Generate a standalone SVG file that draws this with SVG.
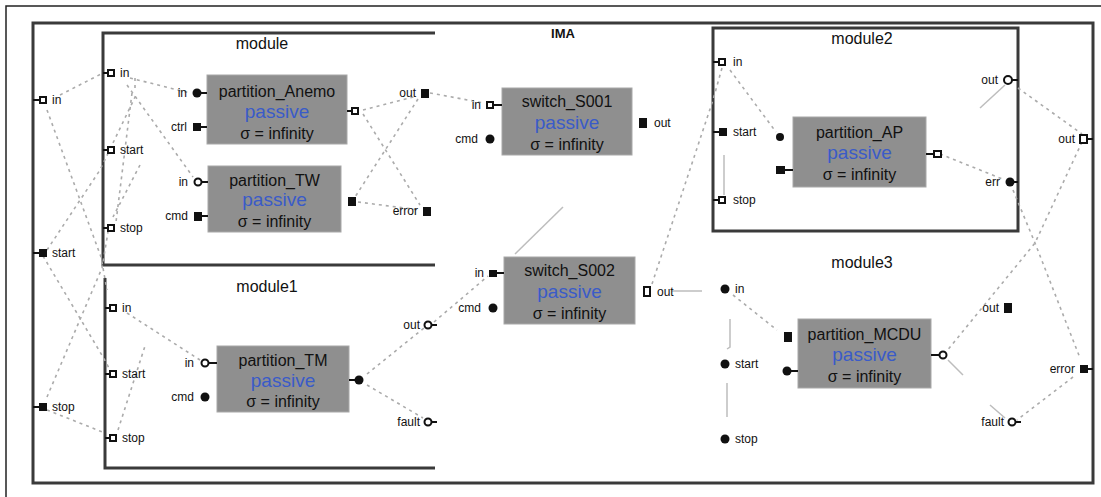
<svg xmlns="http://www.w3.org/2000/svg" width="1101" height="497" viewBox="0 0 1101 497">
<style>
.bg{fill:#fff}
.box{fill:#8f8f8f;stroke:#a8a8a8;stroke-width:1}
.t{font-family:"Liberation Sans",Arial,sans-serif;font-size:16px;fill:#111;text-anchor:middle}
.pa{font-family:"Liberation Sans",Arial,sans-serif;font-size:19px;fill:#3a5bc8;text-anchor:middle}
.l{font-family:"Liberation Sans",Arial,sans-serif;font-size:12px;fill:#111}
.e{text-anchor:end}
.ml{font-family:"Liberation Sans",Arial,sans-serif;font-size:16px;fill:#111;text-anchor:middle}
.fr{fill:none;stroke:#3a3a3a;stroke-width:3}
.conn{fill:none;stroke:#ababab;stroke-width:1.6;stroke-dasharray:3 4}
.sol{fill:none;stroke:#bdbdbd;stroke-width:1.5}
.st{stroke:#111;stroke-width:2}
.f{fill:#111}
.h{fill:#fff;stroke:#111;stroke-width:2}
</style>
<rect class="bg" x="0" y="0" width="1101" height="497"/>
<g id="frames">
<rect x="6" y="6" width="1200" height="600" fill="none" stroke="#222" stroke-width="1.5"/>
<rect x="33" y="23" width="1060" height="460" class="fr"/>
<text x="563" y="38" class="ml" style="font-size:13px;font-weight:bold">IMA</text>
</g>
<g id="module">
<polyline points="435,33 103,33 103,265 435,265" class="fr"/>
<text x="262" y="49" class="ml">module</text>
</g>
<g id="module1">
<polyline points="105,278 105,468 435,468" class="fr"/>
<text x="267" y="292" class="ml">module1</text>
</g>
<g id="module2">
<rect x="713" y="28" width="305" height="203" class="fr"/>
<text x="862" y="44" class="ml">module2</text>
</g>
<g id="module3">
<text x="862" y="268" class="ml">module3</text>
</g>

<g id="connectors">
<polyline class="conn" points="60,95 101,74"/>
<polyline class="conn" points="47,110 101,257 107,290"/>
<polyline class="conn" points="47,250 100,170 137,93"/>
<polyline class="conn" points="43,256 103,357 110,370"/>
<polyline class="conn" points="47,397 102,268 108,232"/>
<polyline class="conn" points="47,410 105,433"/>
<polyline class="conn" points="130,78 190,93"/>
<polyline class="conn" points="127,85 193,177"/>
<polyline class="conn" points="135,78 135,90"/>
<polyline class="conn" points="132,93 116,222"/>
<polyline class="conn" points="140,165 113,217"/>
<polyline class="conn" points="363,110 417,96"/>
<polyline class="conn" points="363,114 420,205"/>
<polyline class="conn" points="418,99 355,197"/>
<polyline class="conn" points="358,202 420,210"/>
<polyline class="conn" points="430,93 484,103"/>
<polyline class="conn" points="127,313 200,360"/>
<polyline class="conn" points="118,430 145,346"/>
<polyline class="conn" points="367,374 424,328"/>
<polyline class="conn" points="367,385 423,418"/>
<polyline class="conn" points="434,322 488,276"/>
<polyline class="sol" points="515,254 563,207"/>
<polyline class="conn" points="652,284 713,100 722,68"/>
<polyline class="sol" points="672,291 702,291"/>
<polyline class="conn" points="730,70 776,132"/>
<polyline class="sol" points="724,155 724,195"/>
<polyline class="conn" points="940,154 1005,180"/>
<polyline class="sol" points="980,108 1005,85"/>
<polyline class="conn" points="1018,88 1082,134"/>
<polyline class="conn" points="1013,190 1035,243 1080,358"/>
<polyline class="conn" points="1082,142 1035,243 946,352"/>
<polyline class="conn" points="1073,377 1017,420"/>
<polyline class="sol" points="948,360 963,375"/>
<polyline class="sol" points="990,405 1005,418"/>
<polyline class="conn" points="733,295 777,330"/>
<polyline class="sol" points="730,319 730,347 727,349"/>
<polyline class="sol" points="727,383 727,417"/>
</g>

<g id="ports-frame">
<line class="st" x1="33" y1="100" x2="40" y2="100"/><rect class="h" x="40" y="97" width="6" height="6"/><text class="l" x="52" y="104">in</text>
<line class="st" x1="33" y1="253" x2="40" y2="253"/><rect class="f" x="39" y="249" width="8" height="8"/><text class="l" x="52" y="257">start</text>
<line class="st" x1="33" y1="407" x2="40" y2="407"/><rect class="f" x="39" y="403" width="8" height="8"/><text class="l" x="52" y="411">stop</text>
<line class="st" x1="1085" y1="139" x2="1093" y2="139"/><rect class="h" x="1080" y="135" width="7" height="8"/><text class="l e" x="1075" y="143">out</text>
<line class="st" x1="1085" y1="369" x2="1093" y2="369"/><rect class="f" x="1080" y="365" width="8" height="8"/><text class="l e" x="1075" y="373">error</text>
</g>
<g id="ports-module">
<line class="st" x1="103" y1="73" x2="108" y2="73"/><rect class="h" x="108" y="70" width="6" height="6"/><text class="l" x="120" y="77">in</text>
<line class="st" x1="103" y1="150" x2="108" y2="150"/><rect class="h" x="108" y="147" width="6" height="6"/><text class="l" x="120" y="154">start</text>
<line class="st" x1="103" y1="228" x2="108" y2="228"/><rect class="h" x="108" y="225" width="6" height="6"/><text class="l" x="120" y="232">stop</text>
<rect class="f" x="421" y="89" width="8" height="9"/><text class="l e" x="416" y="97">out</text>
<rect class="f" x="423" y="207" width="8" height="9"/><text class="l e" x="418" y="215">error</text>
</g>
<g id="ports-module1">
<line class="st" x1="105" y1="308" x2="110" y2="308"/><rect class="h" x="110" y="305" width="6" height="6"/><text class="l" x="122" y="312">in</text>
<line class="st" x1="105" y1="374" x2="110" y2="374"/><rect class="h" x="110" y="371" width="6" height="6"/><text class="l" x="122" y="378">start</text>
<line class="st" x1="105" y1="438" x2="110" y2="438"/><rect class="h" x="110" y="435" width="6" height="6"/><text class="l" x="122" y="442">stop</text>
<circle class="h" cx="428" cy="325" r="3.5"/><line class="st" x1="431" y1="325" x2="437" y2="325"/><text class="l e" x="420" y="329">out</text>
<circle class="h" cx="428" cy="422" r="3.5"/><line class="st" x1="431" y1="422" x2="437" y2="422"/><text class="l e" x="420" y="426">fault</text>
</g>
<g id="ports-module2">
<line class="st" x1="713" y1="62" x2="719" y2="62"/><rect class="h" x="719" y="59" width="6" height="6"/><text class="l" x="733" y="66">in</text>
<line class="st" x1="713" y1="132" x2="719" y2="132"/><rect class="f" x="719" y="128" width="8" height="8"/><text class="l" x="733" y="136">start</text>
<line class="st" x1="713" y1="200" x2="719" y2="200"/><rect class="h" x="719" y="197" width="6" height="6"/><text class="l" x="733" y="204">stop</text>
<circle class="h" cx="1008" cy="80" r="4"/><line class="st" x1="1012" y1="80" x2="1018" y2="80"/><text class="l e" x="998" y="84">out</text>
<circle class="f" cx="1010" cy="182" r="4.5"/><line class="st" x1="1014" y1="182" x2="1018" y2="182"/><text class="l e" x="1000" y="186">err</text>
</g>
<g id="ports-module3">
<circle class="f" cx="725" cy="289" r="4.5"/><text class="l" x="735" y="293">in</text>
<circle class="f" cx="725" cy="364" r="4.5"/><text class="l" x="735" y="368">start</text>
<circle class="f" cx="725" cy="439" r="4.5"/><text class="l" x="735" y="443">stop</text>
<rect class="f" x="1004" y="303" width="8" height="10"/><text class="l e" x="999" y="312">out</text>
<circle class="h" cx="1012" cy="422" r="3.5"/><line class="st" x1="1015" y1="422" x2="1021" y2="422"/><text class="l e" x="1004" y="426">fault</text>
</g>

<g id="partition_Anemo">
<rect class="box" x="207" y="75" width="140" height="69"/>
<text class="t" x="277" y="97">partition_Anemo</text>
<text class="pa" x="277" y="118">passive</text>
<text class="t" x="277" y="139">σ = infinity</text>
<circle class="f" cx="197" cy="93" r="4.5"/><line class="st" x1="201" y1="93" x2="207" y2="93"/><text class="l e" x="187" y="97">in</text>
<rect class="f" x="193" y="123" width="8" height="8"/><line class="st" x1="201" y1="127" x2="207" y2="127"/><text class="l e" x="187" y="131">ctrl</text>
<line class="st" x1="347" y1="111" x2="352" y2="111"/><rect class="h" x="352" y="108" width="6" height="6"/>
</g>
<g id="partition_TW">
<rect class="box" x="208" y="166" width="133" height="66"/>
<text class="t" x="274.5" y="186">partition_TW</text>
<text class="pa" x="274.5" y="206">passive</text>
<text class="t" x="274.5" y="227">σ = infinity</text>
<circle class="h" cx="198" cy="182" r="3.5"/><line class="st" x1="201" y1="182" x2="208" y2="182"/><text class="l e" x="188" y="186">in</text>
<rect class="f" x="194" y="212" width="8" height="9"/><line class="st" x1="202" y1="216" x2="208" y2="216"/><text class="l e" x="188" y="220">cmd</text>
<rect class="f" x="348" y="197" width="8" height="9"/>
</g>
<g id="partition_TM">
<rect class="box" x="217" y="346" width="132" height="66"/>
<text class="t" x="283" y="366">partition_TM</text>
<text class="pa" x="283" y="387">passive</text>
<text class="t" x="283" y="407">σ = infinity</text>
<circle class="h" cx="205" cy="363" r="3.5"/><line class="st" x1="208" y1="363" x2="217" y2="363"/><text class="l e" x="194" y="367">in</text>
<circle class="f" cx="205" cy="397" r="4.5"/><text class="l e" x="194" y="401">cmd</text>
<line class="st" x1="349" y1="380" x2="356" y2="380"/><circle class="f" cx="359" cy="380" r="4.5"/>
</g>
<g id="switch_S001">
<rect class="box" x="502" y="88" width="130" height="67"/>
<text class="t" x="567" y="107">switch_S001</text>
<text class="pa" x="567" y="129">passive</text>
<text class="t" x="567" y="150">σ = infinity</text>
<rect class="h" x="487" y="102" width="6" height="6"/><line class="st" x1="493" y1="105" x2="502" y2="105"/><text class="l e" x="481" y="109">in</text>
<circle class="f" cx="490" cy="139" r="4.5"/><text class="l e" x="478" y="143">cmd</text>
<rect class="f" x="639" y="118" width="8" height="10"/><text class="l" x="654" y="127">out</text>
</g>
<g id="switch_S002">
<rect class="box" x="504" y="257" width="131" height="67"/>
<text class="t" x="569.5" y="276">switch_S002</text>
<text class="pa" x="569.5" y="298">passive</text>
<text class="t" x="569.5" y="319">σ = infinity</text>
<rect class="f" x="489" y="270" width="8" height="7"/><line class="st" x1="497" y1="273" x2="504" y2="273"/><text class="l e" x="484" y="277">in</text>
<circle class="f" cx="493" cy="308" r="4.5"/><text class="l e" x="481" y="312">cmd</text>
<rect class="h" x="644" y="287" width="6" height="9"/><text class="l" x="657" y="296">out</text>
</g>
<g id="partition_AP">
<rect class="box" x="793" y="117" width="133" height="70"/>
<text class="t" x="859.5" y="138">partition_AP</text>
<text class="pa" x="859.5" y="159">passive</text>
<text class="t" x="859.5" y="180">σ = infinity</text>
<circle class="f" cx="780" cy="137" r="4"/>
<rect class="f" x="776" y="166" width="9" height="8"/><line class="st" x1="785" y1="170" x2="793" y2="170"/>
<line class="st" x1="926" y1="154" x2="934" y2="154"/><rect class="h" x="934" y="151" width="7" height="6"/>
</g>
<g id="partition_MCDU">
<rect class="box" x="798" y="319" width="133" height="69"/>
<text class="t" x="864.5" y="340">partition_MCDU</text>
<text class="pa" x="864.5" y="361">passive</text>
<text class="t" x="864.5" y="382">σ = infinity</text>
<rect class="f" x="784" y="332" width="8" height="10"/>
<circle class="f" cx="787" cy="371" r="4.5"/><line class="st" x1="791" y1="371" x2="798" y2="371"/>
<line class="st" x1="931" y1="355" x2="939" y2="355"/><circle class="h" cx="943" cy="355" r="3.5"/>
</g>
</svg>
